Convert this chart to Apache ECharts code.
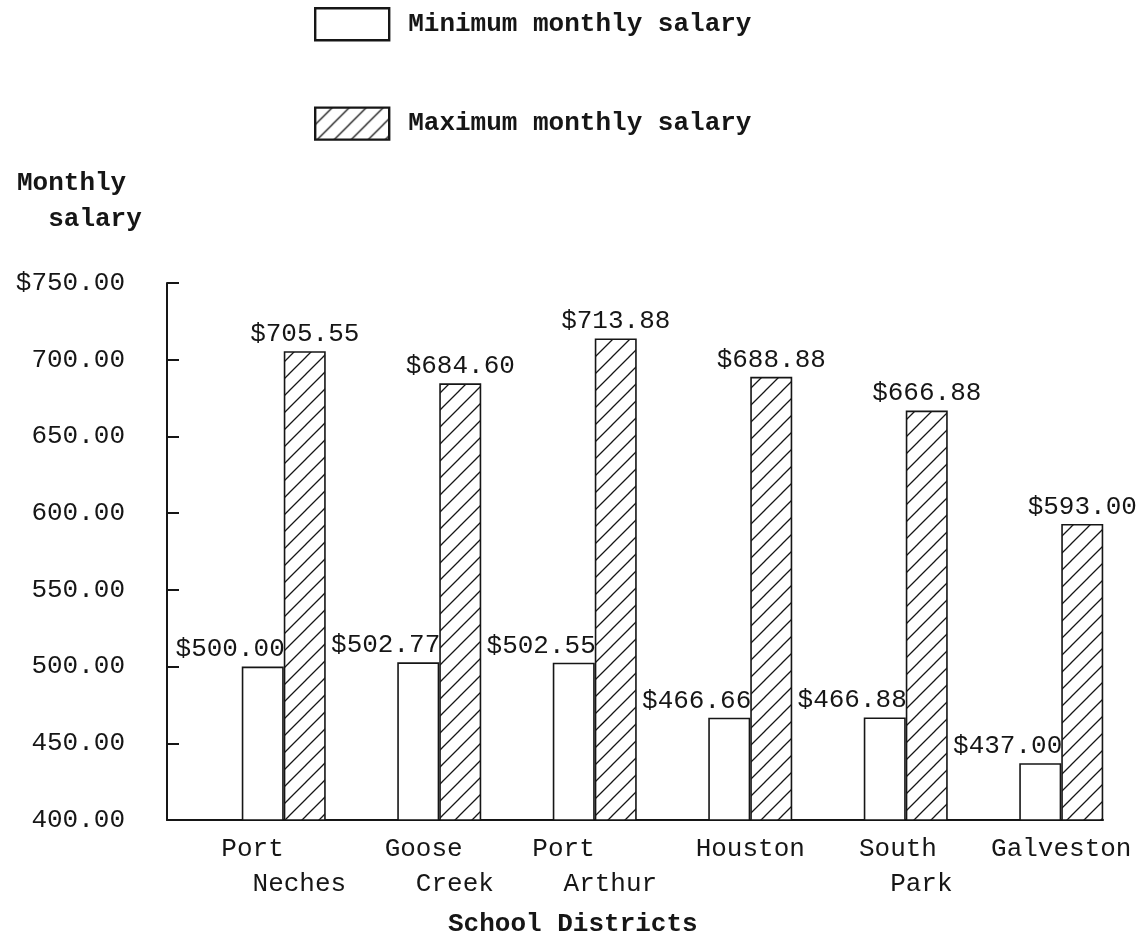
<!DOCTYPE html>
<html>
<head>
<meta charset="utf-8">
<title>Monthly salary by school district</title>
<script src="https://cdn.jsdelivr.net/npm/echarts@6/dist/echarts.min.js"></script>
<style>
  html, body { margin: 0; padding: 0; background: #ffffff; }
  #chart { width: 1147px; height: 952px; }
</style>
</head>
<body>
<div id="chart"></div>
<script>
// Salary data for each school district
const districts = ['Port Neches', 'Goose Creek', 'Port Arthur', 'Houston', 'South Park', 'Galveston'];
// Typed label lines for each district (two-line names indented by two spaces)
const districtLabels = ['Port    \n  Neches', 'Goose  \n  Creek', 'Port    \n  Arthur', 'Houston', 'South \n  Park', 'Galveston'];
const minSalary = [500.00, 502.77, 502.55, 466.66, 466.88, 437.00];
const maxSalary = [705.55, 684.60, 713.88, 688.88, 666.88, 593.00];
const yTickValues = [400, 450, 500, 550, 600, 650, 700, 750];
const yTickLabels = ['400.00', '450.00', '500.00', '550.00', '600.00', '650.00', '700.00', '$750.00'];

const INK = '#161616';
const MONO = '"Liberation Mono", "DejaVu Sans Mono", monospace';
const BAR_W = 42;

// Diagonal hatching tile for the maximum-salary bars
function hatchPattern() {
  const s = 17;
  const c = document.createElement('canvas');
  c.width = s; c.height = s;
  const g = c.getContext('2d');
  g.fillStyle = '#ffffff';
  g.fillRect(0, 0, s, s);
  g.strokeStyle = INK;
  g.lineWidth = 1.3;
  g.beginPath();
  g.moveTo(-2, s + 2); g.lineTo(s + 2, -2);
  g.moveTo(-2, 2); g.lineTo(2, -2);
  g.moveTo(s - 2, s + 2); g.lineTo(s + 2, s - 2);
  g.stroke();
  return { image: c, repeat: 'repeat' };
}
const hatch = hatchPattern();

const money = v => '$' + v.toFixed(2);

const chart = echarts.init(document.getElementById('chart'), null, { renderer: 'canvas' });

chart.setOption({
  backgroundColor: '#ffffff',
  animation: false,
  title: [
    {
      text: 'Monthly\n  salary',
      left: 12, top: 160,
      textStyle: { fontFamily: MONO, fontWeight: 'bold', fontSize: 26, color: INK, lineHeight: 36 }
    },
    {
      text: 'School Districts',
      left: 443, top: 906,
      textStyle: { fontFamily: MONO, fontWeight: 'bold', fontSize: 26, color: INK }
    }
  ],
  legend: {
    orient: 'vertical',
    left: 309, top: 2,
    icon: 'rect',
    itemWidth: 74, itemHeight: 32,
    itemGap: 65,
    textStyle: { fontFamily: MONO, fontWeight: 'bold', fontSize: 26, color: INK, padding: [0, 0, 0, 14] },
    data: [
      { name: 'Minimum monthly salary', icon: 'rect', itemStyle: { color: '#ffffff', borderColor: INK, borderWidth: 2.4 } },
      { name: 'Maximum monthly salary', icon: 'rect', itemStyle: { color: hatch, borderColor: INK, borderWidth: 2.4 } }
    ]
  },
  grid: [
    { left: 206, right: 8, top: 283, bottom: 132 },
    // frame for the baseline under the bars
    { left: 167, right: 44, top: 283, bottom: 132 }
  ],
  xAxis: [
    {
      type: 'category',
      gridIndex: 0,
      data: districts,
      axisLine: { show: false },
      axisTick: { show: false },
      axisLabel: {
        interval: 0,
        margin: 12,
        fontFamily: MONO, fontSize: 26, color: INK, lineHeight: 35,
        formatter: (v, i) => districtLabels[i]
      }
    },
    {
      type: 'value',
      gridIndex: 1,
      min: 0, max: 1,
      position: 'bottom',
      axisLine: { show: true, lineStyle: { color: INK, width: 2 } },
      axisTick: { show: false },
      axisLabel: { show: false },
      splitLine: { show: false }
    }
  ],
  yAxis: [
    {
      type: 'value',
      gridIndex: 0,
      min: 400, max: 750, interval: 50,
      offset: 39,
      axisLine: { show: true, lineStyle: { color: INK, width: 2 } },
      axisTick: { show: true, inside: true, length: 12, lineStyle: { color: INK, width: 2 } },
      splitLine: { show: false },
      axisLabel: {
        margin: 42,
        fontFamily: MONO, fontSize: 26, color: INK,
        formatter: v => yTickLabels[yTickValues.indexOf(v)]
      }
    },
    {
      type: 'value',
      gridIndex: 1,
      min: 0, max: 1,
      show: false
    }
  ],
  series: [
    {
      name: 'Minimum monthly salary',
      type: 'bar',
      xAxisIndex: 0, yAxisIndex: 0,
      barWidth: BAR_W,
      barGap: '0%',
      data: minSalary,
      itemStyle: { color: '#ffffff', borderColor: INK, borderWidth: 1.6 },
      label: {
        show: true,
        position: 'top',
        align: 'right',
        offset: [BAR_W / 2 + 1, 0],
        distance: 4,
        fontFamily: MONO, fontSize: 26, color: INK,
        formatter: p => money(p.value)
      }
    },
    {
      name: 'Maximum monthly salary',
      type: 'bar',
      xAxisIndex: 0, yAxisIndex: 0,
      barWidth: BAR_W,
      barGap: '0%',
      data: maxSalary,
      itemStyle: { color: hatch, borderColor: INK, borderWidth: 1.6 },
      label: {
        show: true,
        position: 'top',
        distance: 4,
        fontFamily: MONO, fontSize: 26, color: INK,
        formatter: p => money(p.value)
      }
    }
  ]
});
</script>
</body>
</html>
